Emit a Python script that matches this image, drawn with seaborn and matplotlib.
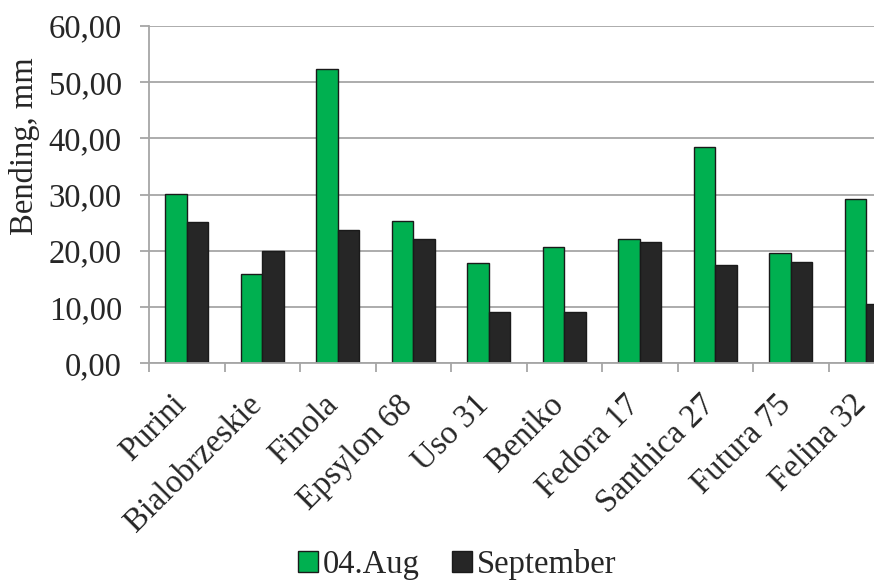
import matplotlib
matplotlib.use("Agg")
import matplotlib.pyplot as plt
from matplotlib.ticker import FuncFormatter, FixedLocator
from matplotlib.transforms import ScaledTranslation
import seaborn as sns
import pandas as pd

varieties = ['Purini', 'Bialobrzeskie', 'Finola', 'Epsylon 68', 'Uso 31',
             'Beniko', 'Fedora 17', 'Santhica 27', 'Futura 75', 'Felina 32']
aug = [30.1, 15.9, 52.3, 25.4, 17.9, 20.7, 22.1, 38.5, 19.7, 29.2]
sep = [25.2, 19.9, 23.8, 22.1, 9.2, 9.2, 21.5, 17.5, 18.0, 10.5]
series = ['04.Aug', 'September']
colors = ['#00B050', '#262626']

df = pd.DataFrame({
    'variety': varieties * 2,
    'bending': aug + sep,
    'date': [series[0]] * len(varieties) + [series[1]] * len(varieties),
})

sns.set_style("white")
plt.rcParams['font.family'] = ['Liberation Serif', 'DejaVu Serif']
FS = 23.5

fig = plt.figure(figsize=(8.74, 5.83), dpi=100)
ax = fig.add_axes([149 / 874, 1 - 363.3 / 583, 1 - 149 / 874, (363.3 - 26) / 583])

sns.barplot(data=df, x='variety', y='bending', hue='date', palette=colors,
            saturation=1, width=0.565, edgecolor='#1a1a1a', linewidth=1.0,
            ax=ax, legend=False)

grid_c = '#A6A6A6'
ax.set_ylim(0, 60)
# plot is cut at the right edge, like the original
ax.set_xlim(-0.5, (874 - 149) / 75.5 - 0.5)
ax.set_yticks(range(0, 61, 10))
ax.yaxis.set_major_formatter(FuncFormatter(lambda v, p: f"{v:.2f}".replace('.', ',')))
ax.grid(axis='y', color=grid_c, linewidth=1.3)
ax.set_axisbelow(True)

for s in ['top', 'right']:
    ax.spines[s].set_visible(False)
for s in ['left', 'bottom']:
    ax.spines[s].set_color(grid_c)
    ax.spines[s].set_linewidth(1.3)

ax.tick_params(axis='y', which='major', length=6.5, width=1.3, color=grid_c,
               labelsize=FS, pad=13, direction='out', left=True)
ax.tick_params(axis='x', which='major', length=0, labelsize=FS, pad=0)
ax.xaxis.set_minor_locator(FixedLocator([i - 0.5 for i in range(len(varieties))]))
ax.tick_params(axis='x', which='minor', length=6.5, width=1.3, color=grid_c,
               direction='out', bottom=True)
shift = ScaledTranslation(-0.05, -0.37, fig.dpi_scale_trans)
for lab in ax.get_xticklabels():
    lab.set_rotation(45)
    lab.set_ha('right')
    lab.set_va('center')
    lab.set_rotation_mode('anchor')
    lab.set_transform(lab.get_transform() + shift)

ax.set_xlabel('')
ax.set_ylabel('Bending, mm', fontsize=FS, va='center')
ax.yaxis.set_label_coords(-0.172, 0.643)

handles = [plt.Rectangle((0, 0), 1, 1, facecolor=c, edgecolor='#1a1a1a', linewidth=1.0)
           for c in colors]
fig.legend(handles, series, loc='center', bbox_to_anchor=(0.523, 0.032), ncol=2,
           frameon=False, fontsize=FS, handlelength=0.6, handleheight=0.6,
           handletextpad=0.15, columnspacing=1.0, borderpad=0, borderaxespad=0)

fig.savefig('out.png', dpi=100)
